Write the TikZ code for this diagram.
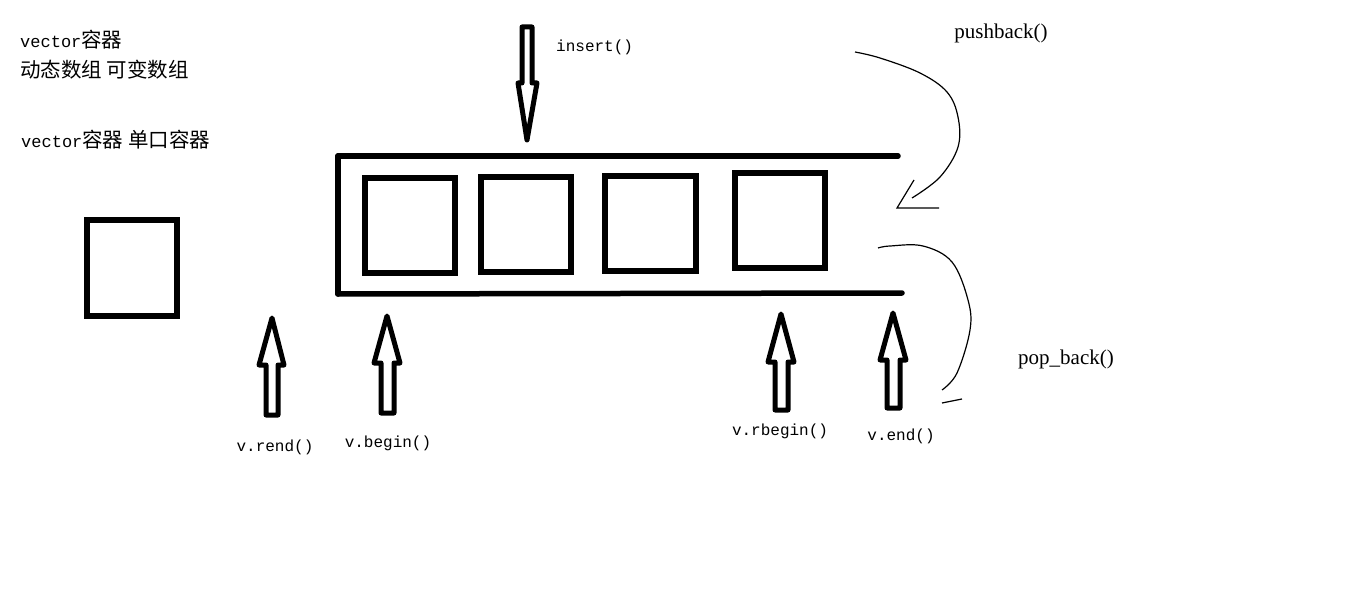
\documentclass[tikz,border=0pt]{standalone}
\usepackage{fontspec}
\setmainfont{Liberation Serif}
\setmonofont{Liberation Mono}
\newfontfamily\cjk{Noto Sans CJK SC}
\begin{document}
\begin{tikzpicture}[x=1pt,y=-1pt,
  thickline/.style={line width=5.5pt,line cap=round,line join=round},
  boxline/.style={line width=5.5pt},
  bigarrow/.style={draw,line width=5pt,line join=round},
  thincurve/.style={line width=1.2pt},
  monolab/.style={font=\ttfamily\fontsize{16}{19}\selectfont,inner sep=0pt},
  seriflab/.style={font=\rmfamily\fontsize{21}{24}\selectfont,inner sep=0pt},
  toplab/.style={inner sep=0pt,anchor=west}]
\useasboundingbox (0,0) rectangle (1360,604);
\fill[white] (0,0) rectangle (1360,604);

% top-left texts
\node[toplab] (t1) at (20,40) {\ttfamily\fontsize{17}{20}\selectfont vector\cjk\fontsize{20.5}{24}\selectfont 容器};
\node[toplab] (t2) at (20,70) {\cjk\fontsize{20.5}{24}\selectfont 动态数组 可变数组};
\node[toplab] (t3) at (21,140) {\ttfamily\fontsize{17}{20}\selectfont vector\cjk\fontsize{20.5}{24}\selectfont 容器 单口容器};

% single box
\draw[boxline] (87,220) rectangle (177,316);

% container
\coordinate (ctl) at (338,156);
\coordinate (ctr) at (898,156);
\coordinate (cbl) at (338,294);
\coordinate (cbr) at (902,293);
\draw[thickline] (ctl) -- (ctr);
\draw[thickline] (ctl) -- (cbl);
\draw[thickline] (cbl) -- (cbr);

% element boxes
\draw[boxline] (365,178) rectangle (455,273);
\draw[boxline] (481,177) rectangle (571,272);
\draw[boxline] (605,176) rectangle (696,271);
\draw[boxline] (735,173) rectangle (825,268);

% insert arrow (down)
\draw[bigarrow] (522,27) -- (532,27) -- (532,83) -- (537,83) -- (527,140) -- (518,83) -- (522,83) -- cycle;
\node[monolab,anchor=west] (ins) at (556,47) {insert()};

% up arrows
\draw[bigarrow] (266,415) -- (266,365) -- (259,365) -- (272,318) -- (284,365) -- (278,365) -- (278,415) -- cycle;
\draw[bigarrow] (381,413) -- (381,363) -- (374,363) -- (387,316) -- (400,363) -- (394,363) -- (394,413) -- cycle;
\draw[bigarrow] (775,410) -- (775,362) -- (768,362) -- (781,314) -- (794,362) -- (788,362) -- (788,410) -- cycle;
\draw[bigarrow] (887,408) -- (887,360) -- (880,360) -- (893,313) -- (906,360) -- (900,360) -- (900,408) -- cycle;

\node[monolab] (rend) at (275,447) {v.rend()};
\node[monolab] (begin) at (388,443) {v.begin()};
\node[monolab] (rbegin) at (780,431) {v.rbegin()};
\node[monolab] (endl) at (901,436) {v.end()};

% pushback curve
\node[seriflab] (push) at (1001,33) {pushback()};
\draw[thincurve] plot[smooth,tension=0.6] coordinates {(855,52) (880,58) (920,73) (947,92) (958,117) (958,147) (940,177) (912,198)};
\draw[thincurve] (914,180) -- (897,208) -- (939,208);

% pop_back curve
\node[seriflab] (pop) at (1066,359) {pop\_back()};
\draw[thincurve] plot[smooth,tension=0.6] coordinates {(878,248) (890,246) (923,246) (952,262) (968,300) (970,330) (957,373) (942,390)};
\draw[thincurve] (942,403) -- (962,399);
\end{tikzpicture}
\end{document}
